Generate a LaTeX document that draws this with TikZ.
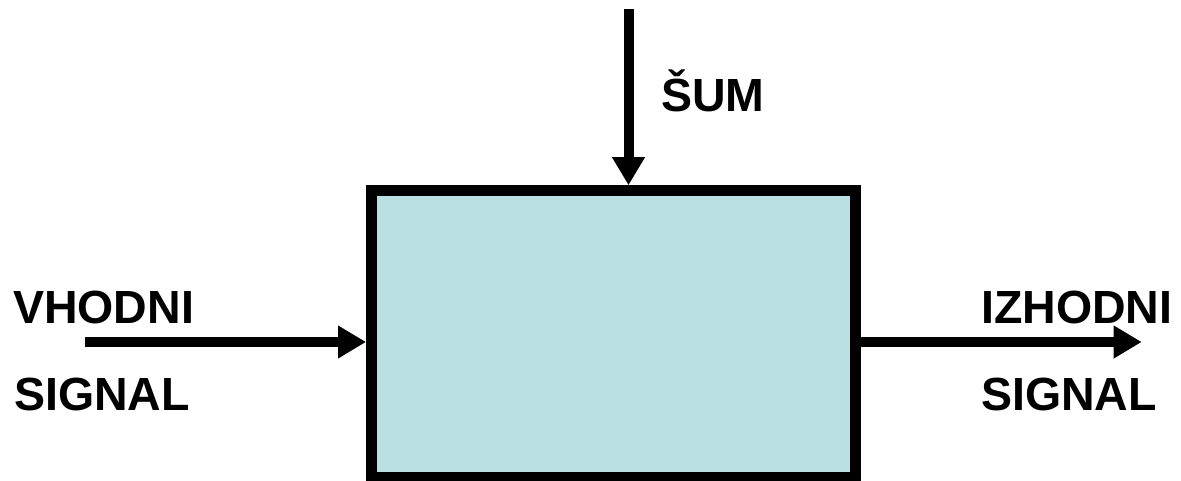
\documentclass[tikz,border=0pt]{standalone}
\usepackage{fontspec}
\setmainfont{Liberation Sans}
\usetikzlibrary{arrows.meta}
\definecolor{boxfill}{RGB}{186,224,227}
\tikzset{
  sysbox/.style={draw=black, fill=boxfill, line width=10.5pt, inner sep=0pt,
    minimum width=484pt, minimum height=286.5pt},
  arr/.style={line width=10pt, -{Triangle[length=28pt,width=31pt]}},
  lbl/.style={anchor=base west, inner sep=0pt, font=\fontsize{46.5}{50}\selectfont\bfseries},
}
\begin{document}
\begin{tikzpicture}[x=1pt,y=-1pt]
\useasboundingbox (0,0) rectangle (1181,481);
\node[sysbox] (box) at (613.3,333.75) {};
\coordinate (noise) at (628.5,9);
\coordinate (in) at (85,342);
\coordinate (out) at (1141.7,342);
\draw[arr] (noise) -- (noise |- box.north);
\draw[arr] (in) -- (in -| box.west);
\draw[arr] (in -| box.east) -- (out);
\node[lbl] (sum) at (661,112) {ŠUM};
\node[lbl] (vh) at (13,323) {VHODNI};
\node[lbl] (vs) at (14,410) {SIGNAL};
\node[lbl] (iz) at (981,323) {IZHODNI};
\node[lbl] (is) at (981,410) {SIGNAL};
\end{tikzpicture}
\end{document}
